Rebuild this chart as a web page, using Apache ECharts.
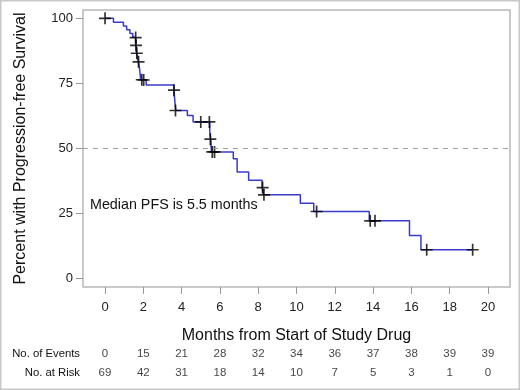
<!DOCTYPE html>
<html>
<head>
<meta charset="utf-8">
<script src="https://cdn.jsdelivr.net/npm/echarts@6/dist/echarts.min.js"></script>
<style>
  html, body { margin: 0; padding: 0; background: #fff; }
  #main { width: 520px; height: 390px; }
</style>
</head>
<body>
<div id="main"></div>
<script>
// KM step points (months, percent surviving after the step)
const stepMonths = [0, 0.44, 0.96, 1.13, 1.3, 1.45, 1.6, 1.65, 1.72, 1.8, 1.86, 2.15, 3.6, 3.66, 3.7, 4.3, 4.6, 5.47, 5.52, 5.56, 6.7, 6.9, 7.5, 8.2, 8.28, 10.2, 10.9, 13.8, 15.9, 16.5, 19.2];
const stepPercent = [100, 98.5, 97.1, 95.6, 94.2, 92.7, 89.8, 86.9, 84.0, 81.0, 76.4, 74.4, 72.4, 67.0, 64.6, 62.7, 60.2, 56.5, 53.6, 48.7, 46.1, 41.0, 37.8, 35.0, 32.2, 29.0, 25.8, 22.2, 16.6, 11.1, 11.1];
// censored observations
const censorMonths = [0, 1.6, 1.62, 1.66, 1.75, 1.92, 2.02, 3.6, 3.68, 5.0, 5.45, 5.5, 5.6, 5.72, 8.23, 8.3, 11.05, 13.85, 14.1, 16.8, 19.2];
const censorPercent = [100, 92.6, 89.6, 86.6, 83.3, 76.4, 76.3, 72.4, 64.6, 60.2, 60.2, 53.6, 48.7, 48.7, 35.0, 32.2, 25.8, 22.2, 22.2, 11.1, 11.1];
// risk table
const tableMonths = [0, 2, 4, 6, 8, 10, 12, 14, 16, 18, 20];
const events = [0, 15, 21, 28, 32, 34, 36, 37, 38, 39, 39];
const atRisk = [69, 42, 31, 18, 14, 10, 7, 5, 3, 1, 0];
const yTicks = [0, 25, 50, 75, 100];

const font = '"Liberation Sans", Arial, sans-serif';
const chart = echarts.init(document.getElementById('main'), null, { renderer: 'canvas' });

const curve = stepMonths.map((m, i) => [m, stepPercent[i]]);
const censors = censorMonths.map((m, i) => [m, censorPercent[i]]);
const tableData = [];
tableMonths.forEach((m, i) => {
  tableData.push([m, 'No. of Events', events[i]]);
  tableData.push([m, 'No. at Risk', atRisk[i]]);
});

const option = {
  backgroundColor: '#fff',
  animation: false,
  textStyle: { fontFamily: font },
  graphic: [
    {
      type: 'rect',
      shape: { x: 0.5, y: 0.5, width: 519, height: 389 },
      style: { fill: 'none', stroke: '#c8c8c8', lineWidth: 2 },
      silent: true
    },
    {
      type: 'text',
      left: 90,
      top: 198,
      style: { text: 'Median PFS is 5.5 months', font: '14.3px ' + font, fill: '#111' }
    }
  ],
  grid: [
    { left: 83, right: 10, top: 10, height: 277, show: true, borderColor: '#b8b8b8', borderWidth: 1.5 },
    { left: 83, right: 10, top: 345, height: 37 }
  ],
  xAxis: [
    {
      type: 'value', gridIndex: 0, min: -1.15, max: 21.15,
      name: 'Months from Start of Study Drug', nameLocation: 'middle', nameGap: 41,
      nameTextStyle: { fontSize: 16, color: '#111' },
      splitLine: { show: false },
      axisLine: { show: false, onZero: false },
      axisTick: { show: true, length: 7, lineStyle: { color: '#999' }, customValues: tableMonths },
      axisLabel: { fontSize: 13, color: '#222', margin: 14, customValues: tableMonths }
    },
    {
      type: 'value', gridIndex: 1, min: -1.15, max: 21.15,
      show: false
    }
  ],
  yAxis: [
    {
      type: 'value', gridIndex: 0, min: -3.2, max: 103.2,
      name: 'Percent with Progression-free Survival', nameLocation: 'middle', nameGap: 54,
      nameTextStyle: { fontSize: 16, color: '#111' },
      splitLine: { show: false },
      axisLine: { show: false, onZero: false },
      axisTick: { show: true, length: 7, lineStyle: { color: '#999' }, customValues: yTicks },
      axisLabel: { fontSize: 13, color: '#222', margin: 10, customValues: yTicks }
    },
    {
      type: 'category', gridIndex: 1, data: ['No. at Risk', 'No. of Events'],
      axisLine: { show: false }, axisTick: { show: false },
      axisLabel: { fontSize: 11.3, color: '#111', margin: 3 }
    }
  ],
  series: [
    {
      type: 'line', xAxisIndex: 0, yAxisIndex: 0, step: 'end',
      data: curve, showSymbol: false, symbol: 'none',
      lineStyle: { color: '#3a3acc', width: 1.5 },
      markLine: {
        silent: true, symbol: 'none', label: { show: false },
        lineStyle: { color: '#a0a0a0', type: [5, 5], width: 1.2 },
        data: [{ yAxis: 50 }]
      },
      z: 2
    },
    {
      type: 'scatter', xAxisIndex: 0, yAxisIndex: 0,
      data: censors,
      symbol: 'path://M4.3,0H5.7V4.3H10V5.7H5.7V10H4.3V5.7H0V4.3H4.3Z',
      symbolSize: 12,
      itemStyle: { color: '#000' },
      z: 3
    },
    {
      type: 'scatter', xAxisIndex: 1, yAxisIndex: 1,
      data: tableData, symbolSize: 1,
      itemStyle: { color: 'transparent' },
      label: {
        show: true, position: 'inside', fontSize: 11.5, color: '#111',
        formatter: p => String(p.data[2])
      }
    }
  ]
};
chart.setOption(option);
</script>
</body>
</html>
